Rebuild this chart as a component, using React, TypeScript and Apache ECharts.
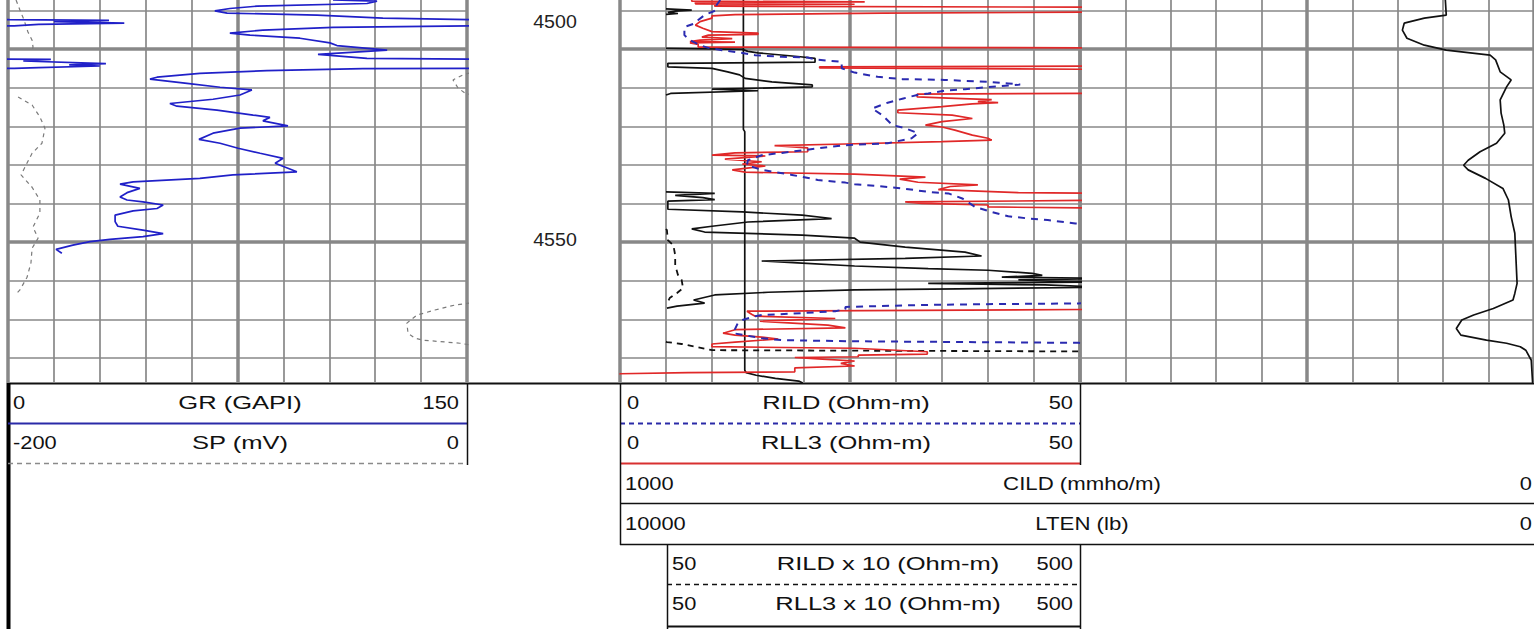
import React, { useEffect, useRef } from "react";
import * as echarts from "echarts";

// ---------- depth scale ----------
const DEPTH_MIN = 4487.3;
const DEPTH_MAX = 4586.5;
const DEPTH_LABELS = ["4500", "4550"];

// ---------- track 1 : GR (0..150 GAPI), SP (-200..0 mV) ----------
const GR: [number, number][] = [
  [4487.3, 106.2], [4487.6, 120.6], [4488.2, 117.3], [4488.9, 81.4], [4489.5, 72.5], [4490.1, 67.6],
  [4490.7, 71.6], [4491.2, 101.0], [4492.0, 122.5], [4492.4, 150.5], [4492.6, 183], [4492.9, 165],
  [4493.3, 188], [4493.6, 160], [4494.0, 152], [4494.4, 106.2], [4495.1, 83.3], [4495.9, 72.5],
  [4496.4, 79.1], [4497.2, 95.4], [4498.4, 105.2], [4499.1, 107.5], [4500.3, 123.9], [4501.4, 101.3],
  [4502.4, 117.3], [4502.7, 164], [4503.1, 155], [4503.8, 182], [4504.1, 170], [4504.4, 180],
  [4504.8, 160], [4505.0, 152], [4505.1, 116.0], [4505.6, 84.6], [4506.3, 62.7], [4507.3, 48.7],
  [4507.8, 46.4], [4508.9, 58.5], [4509.9, 69.3], [4510.6, 79.7], [4511.9, 75.8], [4513.0, 67.0],
  [4514.1, 52.9], [4514.8, 55.2], [4515.8, 68.3], [4517.1, 80.1], [4517.7, 85.6], [4518.6, 83.3],
  [4519.9, 91.5], [4520.5, 75.8], [4521.8, 67.0], [4523.4, 62.4], [4524.4, 69.3], [4525.7, 75.2],
  [4527.0, 82.4], [4528.3, 89.9], [4529.6, 87.3], [4531.8, 94.4], [4532.6, 73.5], [4533.5, 62.7],
  [4534.4, 40.9], [4535.0, 36.6], [4536.1, 43.1], [4537.2, 38.9], [4538.3, 36.6], [4539.1, 38.9],
  [4539.6, 44.1], [4540.4, 50.7], [4541.3, 48.7], [4541.9, 40.9], [4543.0, 35.0], [4544.7, 35.0],
  [4545.9, 35.9], [4546.9, 44.1], [4547.8, 50.7], [4548.6, 44.1], [4549.3, 33.3], [4549.9, 26.8],
  [4550.8, 21.2], [4551.9, 15.7], [4552.9, 17.6],
];

const SP_SEGMENTS: [number, number][][] = [
  [[4487.3, -196.5], [4489.9, -194.8], [4492.5, -193.0], [4495.6, -191.3], [4497.7, -189.5], [4499.5, -189.1], [4500.3, -189.5]],
  [[4506.2, 1.3], [4506.7, -1.8], [4508.0, -6.1], [4510.1, -3.9], [4511.4, -0.9], [4511.9, 2]],
  [[4512.4, -195.6], [4514.5, -189.5], [4517.6, -186.1], [4520.5, -183.9], [4524.4, -185.2], [4527.0, -189.5],
   [4529.5, -191.7], [4532.6, -194.3], [4535.8, -189.5], [4539.1, -186.1], [4542.5, -186.1], [4546.1, -189.1],
   [4549.0, -186.9], [4551.6, -189.5], [4555.4, -190.0], [4559.1, -191.7], [4562.4, -194.8], [4563.2, -196.1]],
  [[4565.8, 1.3], [4566.3, -5.2], [4567.6, -14.0], [4568.9, -21.8], [4571.0, -26.2], [4573.6, -25.7],
   [4574.9, -22.7], [4575.4, -19.2], [4576.2, -3.1], [4576.7, 2]],
];

// ---------- track 2 : RILD / RLL3 (0..50), backups x10 ----------
const RILD: [number, number][] = [
  [4487.3, 10.9], [4488.6, 10.5], [4489.9, 10.5], [4491.2, 9.2], [4492.5, 8.5], [4493.3, 8.2], [4494.3, 7.0],
  [4496.4, 7.0], [4497.7, 7.6], [4499.0, 8.7], [4499.7, 9.6], [4500.3, 11.1], [4501.0, 13.3], [4501.6, 14.7],
  [4502.0, 17.6], [4502.2, 20.4], [4502.7, 21.2], [4503.0, 22.6], [4503.3, 24.1], [4505.0, 24.1], [4506.1, 25.5],
  [4507.2, 28.0], [4507.8, 30.7], [4508.0, 35.3], [4508.5, 40.0], [4508.9, 42.2], [4509.2, 43.5], [4509.9, 39.7],
  [4510.4, 37.5], [4510.8, 35.3], [4511.5, 33.5], [4511.9, 32.3], [4512.8, 30.8], [4513.9, 29.1], [4515.4, 27.4],
  [4517.1, 28.5], [4519.7, 29.6], [4520.5, 31.0], [4521.8, 32.4], [4523.1, 31.7], [4524.4, 29.1], [4524.6, 27.4],
  [4524.9, 24.5], [4525.4, 22.6], [4526.9, 17.6], [4527.5, 15.4], [4528.8, 13.9], [4530.1, 13.8], [4531.3, 15.4],
  [4532.6, 18.7], [4533.9, 21.5], [4534.6, 24.5], [4535.0, 25.5], [4535.5, 28.0], [4536.1, 30.7], [4537.0, 33.5],
  [4537.4, 35.7], [4538.7, 37.2], [4540.9, 38.6], [4542.2, 40.4], [4543.3, 42.2], [4543.9, 44.4], [4544.3, 46.5],
  [4545.2, 49.5], [4545.6, 54], [4565.3, 54], [4565.9, 49.8], [4566.1, 38.9], [4566.3, 32.8], [4566.8, 24.5],
  [4567.4, 24.5], [4567.9, 23.4], [4568.4, 19.8], [4568.9, 15.4], [4569.2, 14.7], [4570.2, 13.3], [4571.0, 12.8],
  [4573.6, 12.3], [4574.9, 15.4], [4575.4, 17.6], [4575.7, 25.5], [4576.1, 49.8], [4576.4, 54], [4586.5, 54],
];

const RLL3: [number, number][] = [
  [4487.3, 7.8], [4487.6, 7.8], [4487.8, 26.6], [4487.9, 8.2], [4488.3, 8.2], [4488.4, 25.5], [4488.5, 10.3],
  [4488.9, 10.3], [4489.2, 56], [4490.4, 56], [4490.7, 28.5], [4491.1, 12.5], [4491.4, 10.0], [4492.0, 10.0],
  [4492.9, 8.7], [4493.8, 8.2], [4494.6, 9.0], [4495.5, 10.0], [4495.9, 15.0], [4496.2, 15.0], [4496.4, 9.6],
  [4496.9, 8.9], [4497.3, 12.2], [4497.7, 8.7], [4498.1, 7.6], [4498.2, 12.5], [4498.4, 7.6], [4498.8, 8.5],
  [4499.5, 8.5], [4499.7, 56], [4504.4, 56], [4504.6, 21.7], [4504.9, 21.7], [4505.3, 56], [4511.4, 56],
  [4511.7, 32.3], [4512.4, 32.3], [4512.7, 35.7], [4513.1, 40.4], [4513.6, 38.9], [4513.9, 41.1], [4514.2, 38.3],
  [4514.9, 35.0], [4515.8, 30.2], [4516.5, 30.2], [4517.1, 36.1], [4518.0, 38.3], [4518.8, 35.0], [4519.7, 33.2],
  [4520.2, 35.0], [4521.0, 36.4], [4522.3, 38.3], [4523.1, 40.0], [4523.6, 40.4], [4524.0, 35.0], [4524.6, 24.5],
  [4525.0, 16.8], [4525.6, 20.4], [4526.6, 20.4], [4526.9, 12.5], [4527.5, 10.0], [4527.7, 15.8], [4528.5, 11.4],
  [4529.2, 15.4], [4529.8, 13.3], [4530.3, 15.8], [4531.3, 12.2], [4531.9, 13.6], [4532.4, 25.5], [4533.2, 33.2],
  [4533.7, 30.4], [4534.5, 32.4], [4535.2, 38.9], [4535.6, 35.9], [4536.4, 34.6], [4537.2, 43.3], [4537.4, 56],
  [4539.1, 56], [4539.6, 31.0], [4540.0, 32.8], [4540.4, 40.0], [4540.9, 40.0], [4541.3, 56], [4567.4, 56],
  [4567.9, 13.8], [4568.7, 14.3], [4569.2, 14.7], [4569.8, 23.4], [4570.5, 15.2], [4571.5, 22.6], [4572.2, 24.5],
  [4572.7, 12.5], [4573.6, 11.2], [4574.1, 12.5], [4574.6, 15.4], [4575.1, 17.2], [4575.9, 12.5], [4576.4, 10.0],
  [4577.1, 10.0], [4577.5, 25.5], [4578.4, 33.4], [4579.0, 33.4], [4579.3, 25.9], [4579.7, 25.9], [4579.9, 19.0],
  [4580.3, 22.0], [4580.8, 25.5], [4581.4, 24.0], [4582.1, 25.5], [4582.6, 19.0], [4583.6, 19.0], [4583.8, 7.4],
  [4584.1, 0], [4584.3, 0],
];

const RLL3_X10_SEGMENTS: [number, number][][] = [
  [[4489.6, 50], [4489.9, 78], [4490.2, 60], [4490.5, 52], [4490.8, 63], [4491.0, 50]],
  [[4499.8, 50], [4500.1, 133], [4500.6, 139], [4501.0, 150], [4502.0, 196], [4502.4, 212], [4503.4, 212],
   [4503.7, 52], [4504.6, 52], [4505.0, 100], [4505.9, 117], [4506.7, 130], [4507.6, 136], [4508.5, 165],
   [4509.3, 209], [4509.8, 209], [4510.4, 100], [4510.8, 150], [4511.5, 55], [4511.9, 50]],
  [[4537.0, 50], [4537.4, 103], [4537.9, 60], [4538.5, 90], [4539.0, 103], [4539.4, 52], [4541.5, 52],
   [4542.2, 133], [4543.0, 198], [4543.9, 230], [4544.8, 139], [4545.9, 100], [4546.6, 78], [4547.4, 92],
   [4548.2, 198], [4549.0, 255], [4550.0, 261], [4551.3, 310], [4552.6, 375], [4553.6, 393], [4554.2, 310],
   [4554.9, 154], [4555.4, 193], [4556.2, 255], [4556.9, 335], [4557.3, 400], [4558.1, 448], [4558.6, 459],
   [4559.1, 415], [4559.4, 530], [4559.8, 433], [4560.3, 530], [4560.7, 335], [4561.1, 462], [4561.7, 530],
   [4562.1, 367], [4562.4, 255], [4563.0, 161], [4563.7, 103], [4565.0, 80], [4565.8, 92], [4566.6, 62],
   [4567.1, 51]],
];

const RILD_X10_SEGMENTS: [number, number][][] = [
  [[4546.6, 50], [4546.9, 51], [4549.5, 52], [4550.8, 58], [4553.4, 60], [4556.0, 60], [4558.5, 63],
   [4559.8, 67], [4561.9, 68.5], [4563.2, 62], [4564.5, 54], [4565.5, 52], [4565.8, 50]],
  [[4575.8, 50], [4575.9, 51], [4576.4, 67], [4577.2, 84], [4578.0, 100], [4578.4, 600]],
];

// ---------- tracks 2+3 : CILD (1000..0 mmho/m), LTEN (10000..0 lb) ----------
const LTEN: [number, number][] = [
  [4487.3, 8650], [4520.8, 8650], [4521.4, 8635], [4583.2, 8635], [4583.8, 8620],
  [4584.5, 8510], [4585.3, 8300], [4586.0, 8045], [4586.5, 8000],
];

const CILD: [number, number][] = [
  [4487.3, 97], [4491.2, 96], [4492.0, 120], [4493.3, 142], [4495.1, 144], [4497.2, 139], [4499.0, 120],
  [4500.3, 96], [4501.6, 48], [4502.8, 42], [4505.9, 37], [4508.0, 25], [4509.8, 30], [4513.2, 37],
  [4516.6, 36], [4519.7, 33], [4521.8, 32], [4524.4, 41], [4526.6, 59], [4528.8, 72], [4530.1, 77],
  [4531.3, 72], [4533.5, 53], [4536.1, 34], [4539.1, 28], [4543.4, 25], [4547.7, 21], [4552.9, 20],
  [4560.7, 18.5], [4563.3, 21], [4565.0, 23], [4567.2, 44.5], [4568.9, 66], [4570.2, 79], [4572.4, 85],
  [4574.1, 80], [4575.4, 52], [4576.2, 30], [4577.1, 15], [4578.0, 9], [4580.6, 3], [4586.5, 1.5],
];

// ---------- header texts ----------
const HEAD_T1 = [
  ["0", "GR (GAPI)", "150"],
  ["-200", "SP (mV)", "0"],
];
const HEAD_T2 = [
  ["0", "RILD (Ohm-m)", "50"],
  ["0", "RLL3 (Ohm-m)", "50"],
];
const HEAD_T23 = [
  ["1000", "CILD (mmho/m)", "0"],
  ["10000", "LTEN (lb)", "0"],
];
const HEAD_BACKUP = [
  ["50", "RILD x 10 (Ohm-m)", "500"],
  ["50", "RLL3 x 10 (Ohm-m)", "500"],
];

const GRID_COLOR = "#888888";
const FONT = '18.5px "Liberation Sans", Arial, sans-serif';
const SX_NUM = 1.18;
const SX_TITLE = 1.38;
const SX_WIDE = 1.2;

const hidden = {
  axisLine: { show: false },
  axisTick: { show: false },
  axisLabel: { show: false },
};

function xAxisDef(gridIndex: number, min: number, max: number, interval: number | null, width: number, inverse = false) {
  const ax: any = {
    type: "value",
    gridIndex,
    min,
    max,
    inverse,
    ...hidden,
    splitLine: interval
      ? { show: true, lineStyle: { color: GRID_COLOR, width } }
      : { show: false },
  };
  if (interval) ax.interval = interval;
  return ax;
}

function yAxisDef(gridIndex: number, step: number | null, width: number) {
  const ax: any = {
    type: "value",
    gridIndex,
    inverse: true,
    min: DEPTH_MIN,
    max: DEPTH_MAX,
    ...hidden,
    splitLine: step
      ? { show: true, showMinLine: false, showMaxLine: false, lineStyle: { color: GRID_COLOR, width } }
      : { show: false },
  };
  if (step) {
    ax.minInterval = step;
    ax.maxInterval = step;
  }
  return ax;
}

function line(data: [number, number][], xi: number, yi: number, color: string, width: number, type: any = "solid", z = 3) {
  return {
    type: "line",
    data: data.map(([d, v]) => [v, d]),
    xAxisIndex: xi,
    yAxisIndex: yi,
    symbol: "none",
    showSymbol: false,
    clip: true,
    silent: true,
    z,
    lineStyle: { color, width, type },
  };
}

function txt(text: string, x: number, y: number, align: string, sx: number, fill = "#111") {
  return {
    type: "text",
    x,
    y,
    scaleX: sx,
    silent: true,
    style: { text, font: FONT, fill, textAlign: align, textVerticalAlign: "middle" },
  };
}

function seg(x1: number, y1: number, x2: number, y2: number, stroke: string, lineWidth: number, lineDash?: number[]) {
  return {
    type: "line",
    silent: true,
    shape: { x1, y1, x2, y2 },
    style: { stroke, lineWidth, lineDash },
  };
}

export default function App() {
  const ref = useRef<HTMLDivElement>(null);

  useEffect(() => {
    document.body.style.margin = "0";
    if (!ref.current) return;
    const chart = echarts.init(ref.current, null, { renderer: "svg" });

    const graphics: any[] = [];
    // depth labels
    graphics.push(txt(DEPTH_LABELS[0], 555, 22, "center", 1.06, "#222"));
    graphics.push(txt(DEPTH_LABELS[1], 555, 240, "center", 1.06, "#222"));

    // header frame
    graphics.push(seg(8, 383.5, 1534, 383.5, "#111", 2));
    graphics.push(seg(8.5, 383, 8.5, 629, "#000", 4));
    const rowY = [403, 443, 484, 524, 564, 604];
    // track 1 header
    HEAD_T1.forEach((r, i) => {
      graphics.push(txt(r[0], 13, rowY[i], "left", SX_NUM));
      graphics.push(txt(r[1], 240, rowY[i], "center", SX_TITLE));
      graphics.push(txt(r[2], 459, rowY[i], "right", SX_NUM));
    });
    graphics.push(seg(8, 423.5, 467, 423.5, "#2a2aa8", 2));
    graphics.push(seg(8, 463.5, 467, 463.5, "#8a8a8a", 1.5, [5, 4]));
    graphics.push(seg(467.5, 383, 467.5, 465, "#111", 1.5));
    // track 2 header
    HEAD_T2.forEach((r, i) => {
      graphics.push(txt(r[0], 627, rowY[i], "left", SX_NUM));
      graphics.push(txt(r[1], 846, rowY[i], "center", SX_TITLE));
      graphics.push(txt(r[2], 1073, rowY[i], "right", SX_NUM));
    });
    graphics.push(seg(620, 423.5, 1080, 423.5, "#2a2aa8", 2, [5, 4]));
    graphics.push(seg(620, 463.5, 1080, 463.5, "#d83030", 2));
    graphics.push(seg(1080.5, 383, 1080.5, 465, "#111", 1.5));
    graphics.push(seg(620.5, 383, 620.5, 545, "#111", 1.5));
    HEAD_T23.forEach((r, i) => {
      graphics.push(txt(r[0], 625, rowY[i + 2], "left", SX_NUM));
      graphics.push(txt(r[1], 1082, rowY[i + 2], "center", SX_WIDE));
      graphics.push(txt(r[2], 1532, rowY[i + 2], "right", SX_NUM));
    });
    graphics.push(seg(620, 503.5, 1534, 503.5, "#111", 1.5));
    graphics.push(seg(620, 544.5, 1534, 544.5, "#111", 1.5));
    HEAD_BACKUP.forEach((r, i) => {
      graphics.push(txt(r[0], 672, rowY[i + 4], "left", SX_NUM));
      graphics.push(txt(r[1], 888, rowY[i + 4], "center", SX_TITLE));
      graphics.push(txt(r[2], 1073, rowY[i + 4], "right", SX_NUM));
    });
    graphics.push(seg(667, 584.5, 1080, 584.5, "#111", 1.5, [5, 4]));
    graphics.push(seg(667, 626.5, 1080, 626.5, "#111", 2));
    graphics.push(seg(667.5, 545, 667.5, 629, "#111", 1.5));
    graphics.push(seg(1080.5, 545, 1080.5, 629, "#111", 1.5));

    const series: any[] = [];
    // track 1
    SP_SEGMENTS.forEach((s) => series.push(line(s, 2, 0, "#7a7a7a", 1.2, [4, 4])));
    series.push(line(GR, 0, 0, "#2020c8", 1.7));
    series.push(line(GR, 3, 0, "#2020c8", 1.7));
    // tracks 2+3 (wide scales)
    series.push(line(LTEN, 9, 6, "#111", 1.7));
    series.push(line(CILD, 10, 6, "#111", 1.7));
    // track 2 backups
    RLL3_X10_SEGMENTS.forEach((s) => series.push(line(s, 6, 2, "#111", 1.7)));
    RILD_X10_SEGMENTS.forEach((s) => series.push(line(s, 6, 2, "#111", 1.8, [6, 5])));
    series.push(line(RLL3, 4, 2, "#e02828", 1.7, "solid", 4));
    series.push(line(RILD, 4, 2, "#2a2ab0", 2, [7, 6], 5));

    chart.setOption({
      animation: false,
      backgroundColor: "#ffffff",
      grid: [
        { left: 8, top: 0, width: 459, height: 383 },
        { left: 620, top: 0, width: 460, height: 383 },
        { left: 1080, top: 0, width: 461, height: 383 },
        { left: 620, top: 0, width: 921, height: 383 },
      ],
      xAxis: [
        xAxisDef(0, 0, 150, 15, 1.7),
        xAxisDef(0, 0, 150, 75, 3.5),
        xAxisDef(0, -200, 0, null, 0),
        xAxisDef(0, 150, 300, null, 0),
        xAxisDef(1, 0, 50, 5, 1.7),
        xAxisDef(1, 0, 50, 25, 3.5),
        xAxisDef(1, 0, 500, null, 0),
        xAxisDef(2, 0, 10, 1, 1.7),
        xAxisDef(2, 0, 10, 5, 3.5),
        xAxisDef(3, 0, 10000, null, 0, true),
        xAxisDef(3, 0, 1000, null, 0, true),
      ],
      yAxis: [
        yAxisDef(0, 10, 1.7),
        yAxisDef(0, 50, 3.5),
        yAxisDef(1, 10, 1.7),
        yAxisDef(1, 50, 3.5),
        yAxisDef(2, 10, 1.7),
        yAxisDef(2, 50, 3.5),
        yAxisDef(3, null, 0),
      ],
      series,
      graphic: { elements: graphics },
    });

    return () => chart.dispose();
  }, []);

  return <div ref={ref} style={{ width: 1534, height: 629, overflow: "hidden" }} />;
}
